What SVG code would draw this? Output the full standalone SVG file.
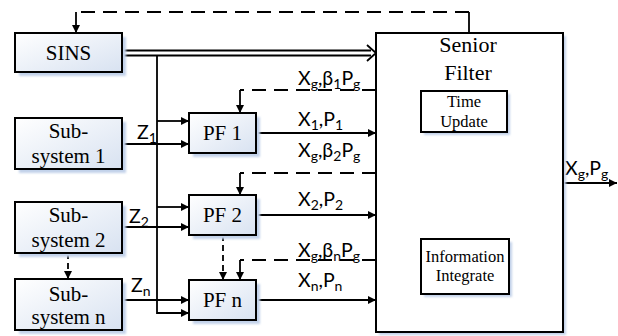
<svg xmlns="http://www.w3.org/2000/svg" width="618" height="336" viewBox="0 0 618 336">
  <defs>
    <linearGradient id="fillGrad" x1="0" y1="0" x2="1" y2="1">
      <stop offset="0" stop-color="#ffffff"/>
      <stop offset="1" stop-color="#d8e2f1"/>
    </linearGradient>
    <filter id="soft" x="-10%" y="-10%" width="120%" height="120%">
      <feGaussianBlur stdDeviation="1.2"/>
    </filter>
    <marker id="arr" viewBox="0 0 10 10" refX="10" refY="5" markerUnits="userSpaceOnUse" markerWidth="10" markerHeight="8" orient="auto">
      <path d="M0,0 L10,5 L0,10 z" fill="#000"/>
    </marker>
  </defs>
  <style>
    .box{fill:url(#fillGrad);stroke:#000;stroke-width:2}
    .plain{fill:#fff;stroke:#000;stroke-width:2}
    .shadow{fill:#c2d2ea;filter:url(#soft)}
    .t{font-family:"Liberation Serif","Times New Roman",serif;font-size:21px;text-anchor:middle;fill:#000}
    .ts{font-size:16.5px}
    .tb{font-size:22px}
    .lab{font-family:Lato,"Liberation Sans",Arial,sans-serif;font-size:19.5px;fill:#000}
    .sub{font-size:14px}
    .ln{fill:none;stroke:#000;stroke-width:1.8}
    .dash{stroke-dasharray:14 8}
    .dot{stroke-dasharray:6 4}
  </style>

  <!-- connectors -->
  <g id="connectors">
    <!-- global feedback to SINS -->
    <path class="ln" d="M469,33 V12"/>
    <path class="ln dash" d="M469,12 H76"/>
    <path class="ln" d="M76,12 V33" marker-end="url(#arr)"/>
    <!-- SINS double line to senior filter -->
    <path class="ln" d="M122,50.5 H371 M122,55.5 H371"/>
    <path class="ln" d="M367,45 L376,53 L367,61" stroke-width="2"/>
    <!-- SINS bus -->
    <path class="ln" d="M157,55.5 V313 H189" marker-end="url(#arr)"/>
    <path class="ln" d="M157,121 H189" marker-end="url(#arr)"/>
    <path class="ln" d="M157,207 H189" marker-end="url(#arr)"/>
    <!-- subsystem measurements -->
    <path class="ln" d="M122,144 H189" marker-end="url(#arr)"/>
    <path class="ln" d="M122,227 H189" marker-end="url(#arr)"/>
    <path class="ln" d="M122,300 H189" marker-end="url(#arr)"/>
    <!-- PF outputs -->
    <path class="ln" d="M256,133 H376" marker-end="url(#arr)"/>
    <path class="ln" d="M256,215 H376" marker-end="url(#arr)"/>
    <path class="ln" d="M256,300 H376" marker-end="url(#arr)"/>
    <!-- senior filter feedback to PFs -->
    <path class="ln dash" d="M376,90 H240"/>
    <path class="ln" d="M240,90 V113" marker-end="url(#arr)"/>
    <path class="ln dash" d="M376,173 H240"/>
    <path class="ln" d="M240,173 V195" marker-end="url(#arr)"/>
    <path class="ln dash" d="M376,260 H240"/>
    <path class="ln" d="M240,260 V280" marker-end="url(#arr)"/>
    <!-- dotted continuation -->
    <path class="ln dot" d="M223,235 V280" marker-end="url(#arr)"/>
    <path class="ln dot" d="M68,253 V279" marker-end="url(#arr)"/>
    <!-- inside senior filter -->
    <path class="ln" d="M448,239 V132" marker-end="url(#arr)"/>
    <path class="ln" d="M481,132 V239" marker-end="url(#arr)"/>
    <!-- final output -->
    <path class="ln" d="M563,183 H617" marker-end="url(#arr)"/>
  </g>

  <!-- connector labels -->
  <g id="labels">
    <text class="lab" x="137" y="139">Z<tspan class="sub" dy="4">1</tspan></text>
    <text class="lab" x="129" y="223">Z<tspan class="sub" dy="4">2</tspan></text>
    <text class="lab" x="131" y="292">Z<tspan class="sub" dy="4">n</tspan></text>

    <text class="lab" x="298" y="85">X<tspan class="sub" dy="4">g</tspan><tspan dy="-4">,β</tspan><tspan class="sub" dy="4">1</tspan><tspan dy="-4">P</tspan><tspan class="sub" dy="4">g</tspan></text>
    <text class="lab" x="298" y="126">X<tspan class="sub" dy="4">1</tspan><tspan dy="-4">,P</tspan><tspan class="sub" dy="4">1</tspan></text>
    <text class="lab" x="298" y="157">X<tspan class="sub" dy="4">g</tspan><tspan dy="-4">,β</tspan><tspan class="sub" dy="4">2</tspan><tspan dy="-4">P</tspan><tspan class="sub" dy="4">g</tspan></text>
    <text class="lab" x="298" y="206">X<tspan class="sub" dy="4">2</tspan><tspan dy="-4">,P</tspan><tspan class="sub" dy="4">2</tspan></text>
    <text class="lab" x="298" y="257">X<tspan class="sub" dy="4">g</tspan><tspan dy="-4">,β</tspan><tspan class="sub" dy="4">n</tspan><tspan dy="-4">P</tspan><tspan class="sub" dy="4">g</tspan></text>
    <text class="lab" x="298" y="287">X<tspan class="sub" dy="4">n</tspan><tspan dy="-4">,P</tspan><tspan class="sub" dy="4">n</tspan></text>

    <text class="lab" x="393" y="198">X<tspan class="sub" dy="4">m</tspan><tspan dy="-4">,P</tspan><tspan class="sub" dy="4">n</tspan></text>
    <text class="lab" x="491" y="177">X<tspan class="sub" dy="4">g</tspan></text>
    <text class="lab" x="489" y="213">β<tspan class="sub" dy="4">m</tspan><tspan dy="-4">P</tspan><tspan class="sub" dy="4">g</tspan></text>
    <text class="lab" x="565" y="175">X<tspan class="sub" dy="4">g</tspan><tspan dy="-4">,P</tspan><tspan class="sub" dy="4">g</tspan></text>
  </g>

  <!-- nodes -->
  <g id="sins">
    <rect class="shadow" x="19" y="37" width="107" height="39"/>
    <rect class="box" x="15" y="33" width="107" height="39"/>
    <text class="t" x="68.5" y="60">SINS</text>
  </g>
  <g id="subsystem-1">
    <rect class="shadow" x="19" y="122" width="107" height="51"/>
    <rect class="box" x="15" y="118" width="107" height="51"/>
    <text class="t" x="68.5" y="138">Sub-</text>
    <text class="t" x="68.5" y="163">system 1</text>
  </g>
  <g id="subsystem-2">
    <rect class="shadow" x="19" y="206" width="107" height="51"/>
    <rect class="box" x="15" y="202" width="107" height="51"/>
    <text class="t" x="68.5" y="222">Sub-</text>
    <text class="t" x="68.5" y="247">system 2</text>
  </g>
  <g id="subsystem-n">
    <rect class="shadow" x="19" y="283" width="107" height="51"/>
    <rect class="box" x="15" y="279" width="107" height="51"/>
    <text class="t" x="68.5" y="301">Sub-</text>
    <text class="t" x="68.5" y="324">system n</text>
  </g>
  <g id="pf-1">
    <rect class="shadow" x="193" y="117" width="67" height="40"/>
    <rect class="box" x="189" y="113" width="67" height="40"/>
    <text class="t" x="222.5" y="140">PF 1</text>
  </g>
  <g id="pf-2">
    <rect class="shadow" x="193" y="199" width="67" height="40"/>
    <rect class="box" x="189" y="195" width="67" height="40"/>
    <text class="t" x="222.5" y="222">PF 2</text>
  </g>
  <g id="pf-n">
    <rect class="shadow" x="193" y="284" width="67" height="40"/>
    <rect class="box" x="189" y="280" width="67" height="40"/>
    <text class="t" x="222.5" y="307">PF n</text>
  </g>
  <g id="senior-filter">
    <rect class="shadow" x="379" y="36" width="187" height="299"/>
    <rect class="plain" x="376" y="33" width="187" height="299"/>
    <text class="t tb" x="468" y="52">Senior</text>
    <text class="t tb" x="468" y="80">Filter</text>
  </g>
  <g id="time-update">
    <rect class="shadow" x="424" y="94" width="86" height="41"/>
    <rect class="plain" x="421" y="91" width="86" height="41"/>
    <text class="t ts" x="464" y="107">Time</text>
    <text class="t ts" x="464" y="127">Update</text>
  </g>
  <g id="information-integrate">
    <rect class="shadow" x="424" y="242" width="88" height="55"/>
    <rect class="plain" x="421" y="239" width="88" height="55"/>
    <text class="t ts" x="465" y="262">Information</text>
    <text class="t ts" x="465" y="281">Integrate</text>
  </g>
</svg>
